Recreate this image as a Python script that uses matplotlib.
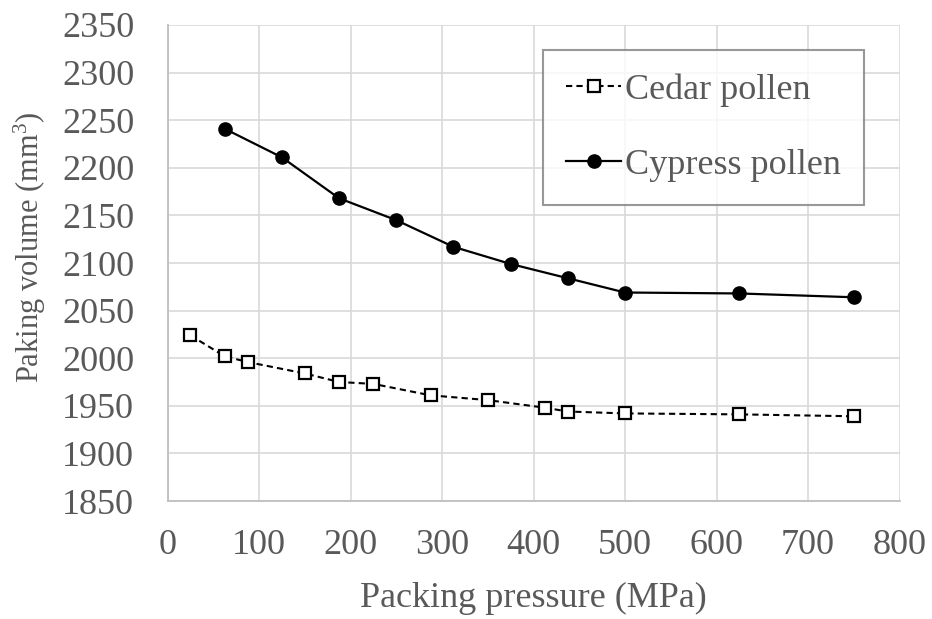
import matplotlib
matplotlib.use("Agg")
import matplotlib.pyplot as plt

cedar_x = [25, 62.5, 87.5, 150, 187.5, 225, 287.5, 350, 412.5, 437.5, 500, 625, 750]
cedar_y = [2024, 2002, 1996, 1984, 1975, 1973, 1961, 1956, 1948, 1944, 1942, 1941, 1939]

cypress_x = [62.5, 125, 187.5, 250, 312.5, 375, 437.5, 500, 625, 750]
cypress_y = [2241, 2211, 2168, 2145, 2117, 2099, 2084, 2069, 2068, 2064]

x_ticks = [0, 100, 200, 300, 400, 500, 600, 700, 800]
y_ticks = [1850, 1900, 1950, 2000, 2050, 2100, 2150, 2200, 2250, 2300, 2350]

plt.rcParams["font.family"] = ["Liberation Serif", "DejaVu Serif"]
plt.rcParams["mathtext.fontset"] = "custom"
plt.rcParams["mathtext.rm"] = "Liberation Serif"
grey = "#595959"

fig = plt.figure(figsize=(9.32, 6.19), dpi=100)
ax = fig.add_axes([167.5 / 932, 1 - 501 / 619, 732 / 932, 476 / 619])

ax.plot(cedar_x, cedar_y, color="black", linestyle=(0, (3, 2)), linewidth=1.5,
        marker="s", markersize=8, markerfacecolor="white", markeredgecolor="black",
        markeredgewidth=1.6, label="Cedar pollen", zorder=3)
ax.plot(cypress_x, cypress_y, color="black", linestyle="-", linewidth=1.6,
        marker="o", markersize=9.5, markerfacecolor="black", markeredgecolor="black",
        label="Cypress pollen", zorder=3)

ax.set_xlim(0, 800)
ax.set_ylim(1850, 2350)
ax.set_xticks(x_ticks)
ax.set_yticks(y_ticks)
ax.grid(True, color="#d9d9d9", linewidth=1.2)
ax.set_axisbelow(True)
for s in ["top", "right"]:
    ax.spines[s].set_visible(False)
for s in ["left", "bottom"]:
    ax.spines[s].set_color("#bfbfbf")
    ax.spines[s].set_linewidth(1.3)
ax.tick_params(length=0, labelsize=26, labelcolor=grey)
ax.tick_params(axis="y", pad=24)
ax.tick_params(axis="x", pad=20)

ax.set_xlabel("Packing pressure (MPa)", fontsize=26, color=grey)
ax.set_ylabel("Paking volume (mm$\\mathrm{^3}$)", fontsize=22, color=grey)
ax.xaxis.set_label_coords(0.5, (501 - 598) / 476)
ax.xaxis.label.set_va("center")
ax.yaxis.set_label_coords((30 - 167.5) / 732, (501 - 247) / 476)
ax.yaxis.label.set_va("center")

leg = ax.legend(loc="upper left", bbox_to_anchor=((543 - 167.5) / 732, 1 - (50 - 25) / 476),
                fontsize=26, frameon=True, fancybox=False, edgecolor="#7f7f7f",
                handlelength=1.5, handletextpad=0.12, labelspacing=1.15,
                borderpad=0.65, borderaxespad=0, labelcolor=grey)
leg.get_frame().set_linewidth(1.5)

fig.savefig("out.png", dpi=100)
